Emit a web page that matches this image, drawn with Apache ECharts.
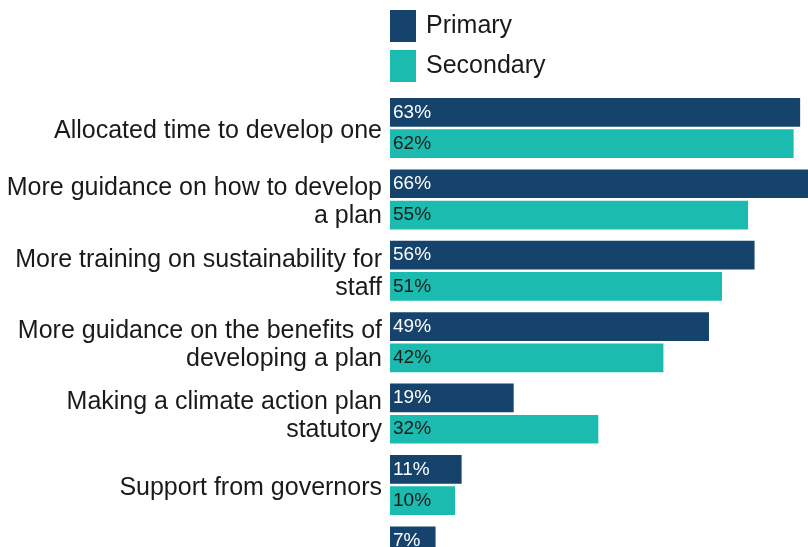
<!DOCTYPE html>
<html>
<head>
<meta charset="utf-8">
<script src="https://cdn.jsdelivr.net/npm/echarts@6/dist/echarts.min.js"></script>
<style>
  html, body { margin: 0; padding: 0; background: #fff; overflow: hidden; }
  #chart { width: 860px; height: 620px; }
</style>
</head>
<body>
<div id="chart"></div>
<script>
// Support that would help schools develop a climate action plan
const categories = [
  'Allocated time to develop one',
  'More guidance on how to develop\na plan',
  'More training on sustainability for\nstaff',
  'More guidance on the benefits of\ndeveloping a plan',
  'Making a climate action plan\nstatutory',
  'Support from governors',
  ''
];
const primaryValues = [63, 66, 56, 49, 19, 11, 7];
const secondaryValues = [62, 55, 51, 42, 32, 10, null];
const seriesNames = ['Primary', 'Secondary'];

const FONT = '"Liberation Sans", Arial, sans-serif';
const chart = echarts.init(document.getElementById('chart'), null, { renderer: 'canvas' });

// A thin spacer line above each category label nudges the block slightly downward
function formatCategory(value) {
  if (!value) return '';
  return '{s| }\n' + value.split('\n').map(function (line) {
    return '{t|' + line + '}';
  }).join('\n');
}

chart.setOption({
  animation: false,
  textStyle: { fontFamily: FONT },
  legend: {
    orient: 'vertical',
    left: 385,
    top: 5,
    itemWidth: 26,
    itemHeight: 32,
    itemGap: 8,
    icon: 'rect',
    textStyle: { fontSize: 25, color: '#1a1a1a', fontFamily: FONT, padding: [0, 0, 0, 5] },
    data: seriesNames
  },
  grid: { left: 390, top: 92.3, width: 455.7, height: 499.8, containLabel: false },
  xAxis: {
    type: 'value',
    min: 0,
    max: 70,
    show: false
  },
  yAxis: {
    type: 'category',
    inverse: true,
    data: categories,
    axisLine: { show: false },
    axisTick: { show: false },
    axisLabel: {
      margin: 8,
      fontSize: 25,
      lineHeight: 28,
      color: '#1a1a1a',
      fontFamily: FONT,
      align: 'right',
      formatter: formatCategory,
      rich: {
        s: { fontSize: 1, lineHeight: 6 },
        t: { fontSize: 25, lineHeight: 28, color: '#1a1a1a', fontFamily: FONT }
      }
    }
  },
  series: [
    {
      name: seriesNames[0],
      type: 'bar',
      data: primaryValues,
      barWidth: 28.7,
      barGap: '9%',
      itemStyle: { color: '#15436c' },
      label: {
        show: true,
        position: 'insideLeft',
        offset: [-2, 0],
        formatter: '{c}%',
        fontSize: 19,
        color: '#ffffff',
        fontFamily: FONT
      }
    },
    {
      name: seriesNames[1],
      type: 'bar',
      data: secondaryValues,
      barWidth: 28.7,
      barGap: '9%',
      itemStyle: { color: '#1cbbb0' },
      label: {
        show: true,
        position: 'insideLeft',
        offset: [-2, 0],
        formatter: '{c}%',
        fontSize: 19,
        color: '#1a1a1a',
        fontFamily: FONT
      }
    }
  ]
});
</script>
</body>
</html>
